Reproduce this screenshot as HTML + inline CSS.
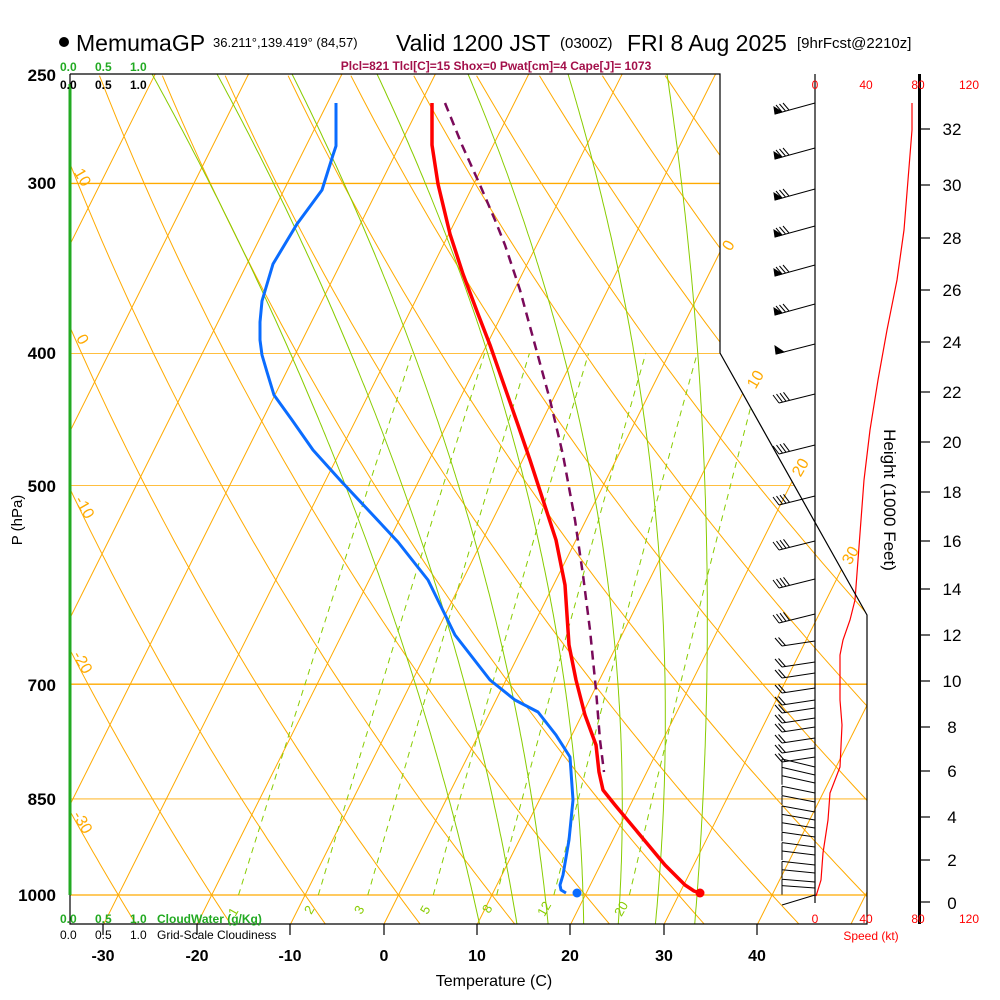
<!DOCTYPE html>
<html><head><meta charset="utf-8"><style>
html,body{margin:0;padding:0;background:#fff;overflow:hidden;}
svg{display:block;font-family:"Liberation Sans",Arial,sans-serif;}
</style></head><body>
<svg id="s" width="1000" height="1000" viewBox="0 0 1000 1000" xmlns="http://www.w3.org/2000/svg">
<defs>
<clipPath id="cp"><polygon points="70,74 720,74 720,353 867,615 867,924 70,924"/></clipPath>
</defs>
<rect width="1000" height="1000" fill="#fff"/>
<g id="grid" clip-path="url(#cp)" fill="none"></g>
<g id="prof" fill="none"></g>
<g id="barbs" stroke="#000" stroke-width="1" fill="none"></g>
<g stroke="#000" stroke-width="1.2" fill="none">
<polyline points="70,74 720,74 720,353 867,615 867,924 70,924 70,74"/>
<line x1="815" y1="74" x2="815" y2="903"/>
</g>
<line x1="70" y1="84" x2="70" y2="895" stroke="#22aa22" stroke-width="3"/>
<line x1="919.5" y1="74" x2="919.5" y2="924" stroke="#000" stroke-width="3"/>
<g stroke="#000" stroke-width="1.2" id="ticks"></g>
<circle cx="64" cy="42" r="5" fill="#000"/>
<text x="76" y="51" font-size="23">MemumaGP</text>
<text x="213" y="47" font-size="13">36.211°,139.419° (84,57)</text>
<text x="396" y="51" font-size="23">Valid 1200 JST</text>
<text x="560" y="48" font-size="15">(0300Z)</text>
<text x="627" y="51" font-size="23">FRI 8 Aug 2025</text>
<text x="797" y="48" font-size="15">[9hrFcst@2210z]</text>
<text x="496" y="70" font-size="12" font-weight="bold" fill="#a3104a" text-anchor="middle">Plcl=821 Tlcl[C]=15 Shox=0 Pwat[cm]=4 Cape[J]= 1073</text>
<g font-size="12" font-weight="bold" fill="#22aa22"><text x="60" y="71">0.0</text><text x="95" y="71">0.5</text><text x="130" y="71">1.0</text></g>
<g font-size="12" font-weight="bold" fill="#000"><text x="60" y="89">0.0</text><text x="95" y="89">0.5</text><text x="130" y="89">1.0</text></g>
<g font-size="12" font-weight="bold" fill="#22aa22"><text x="60" y="923">0.0</text><text x="95" y="923">0.5</text><text x="130" y="923">1.0</text><text x="157" y="923">CloudWater (g/Kg)</text></g>
<g font-size="12" fill="#000"><text x="60" y="939">0.0</text><text x="95" y="939">0.5</text><text x="130" y="939">1.0</text><text x="157" y="939">Grid-Scale Cloudiness</text></g>
<g font-size="17" font-weight="bold" text-anchor="end">
<text x="56" y="81">250</text><text x="56" y="189">300</text><text x="56" y="359">400</text><text x="56" y="492">500</text><text x="56" y="691">700</text><text x="56" y="805">850</text><text x="56" y="901">1000</text>
</g>
<text transform="translate(22,520) rotate(-90)" font-size="15" text-anchor="middle">P (hPa)</text>
<g font-size="16" font-weight="bold" text-anchor="middle">
<text x="103" y="961">-30</text><text x="197" y="961">-20</text><text x="290" y="961">-10</text><text x="384" y="961">0</text><text x="477" y="961">10</text><text x="570" y="961">20</text><text x="664" y="961">30</text><text x="757" y="961">40</text>
</g>
<text x="494" y="986" font-size="16" text-anchor="middle">Temperature (C)</text>
<g font-size="12" fill="#ff0000" text-anchor="middle">
<text x="815" y="89">0</text><text x="866" y="89">40</text><text x="918" y="89">80</text><text x="969" y="89">120</text>
<text x="815" y="923">0</text><text x="866" y="923">40</text><text x="918" y="923">80</text><text x="969" y="923">120</text>
<text x="871" y="940">Speed (kt)</text>
</g>
<g font-size="17" text-anchor="middle">
<text x="952" y="909">0</text><text x="952" y="866">2</text><text x="952" y="823">4</text><text x="952" y="777">6</text><text x="952" y="733">8</text><text x="952" y="687">10</text><text x="952" y="641">12</text><text x="952" y="595">14</text><text x="952" y="547">16</text><text x="952" y="498">18</text><text x="952" y="448">20</text><text x="952" y="398">22</text><text x="952" y="348">24</text><text x="952" y="296">26</text><text x="952" y="244">28</text><text x="952" y="191">30</text><text x="952" y="135">32</text>
</g>
<text transform="translate(884,500) rotate(90)" font-size="17" text-anchor="middle">Height (1000 Feet)</text>
<g font-size="16" fill="#ffaa00" text-anchor="middle">
<text transform="translate(78,180) rotate(60)">10</text>
<text transform="translate(78,342) rotate(60)">0</text>
<text transform="translate(80,510) rotate(60)">-10</text>
<text transform="translate(78,665) rotate(60)">-20</text>
<text transform="translate(78,825) rotate(60)">-30</text>
<text transform="translate(733,248) rotate(-60)">0</text>
<text transform="translate(760,382) rotate(-60)">10</text>
<text transform="translate(805,470) rotate(-60)">20</text>
<text transform="translate(855,558) rotate(-60)">30</text>
</g>
<g font-size="13" fill="#88cc00" text-anchor="middle">
<text transform="translate(237,914) rotate(-60)">1</text>
<text transform="translate(313,912) rotate(-60)">2</text>
<text transform="translate(363,912) rotate(-60)">3</text>
<text transform="translate(429,912) rotate(-60)">5</text>
<text transform="translate(491,911) rotate(-60)">8</text>
<text transform="translate(548,911) rotate(-60)">12</text>
<text transform="translate(625,911) rotate(-60)">20</text>
</g>
</svg>
<script>
(function(){
var NS="http://www.w3.org/2000/svg";
function el(par,tag,attrs){var e=document.createElementNS(NS,tag);for(var k in attrs)e.setAttribute(k,attrs[k]);par.appendChild(e);return e;}
function Y(p){return 895-591*Math.log(1000/p);}
function X(T,p){return 384+9.34*T+0.5*(924-Y(p));}
var g=document.getElementById('grid');
var OR="#ffaa00",GR="#88cc00";
[300,400,500,700,850,1000].forEach(function(p){var y=Y(p);el(g,'line',{x1:70,y1:y,x2:870,y2:y,stroke:OR,'stroke-width':(p==300||p==700||p==1000)?1.3:0.8});});
for(var T=-130;T<=60;T+=10){el(g,'line',{x1:X(T,1052),y1:Y(1052),x2:X(T,248),y2:Y(248),stroke:OR,'stroke-width':1});}
for(var th=-50;th<=220;th+=10){var d="";for(var p=1060;p>=245;p-=10){var T=(th+273.15)*Math.pow(p/1000,0.2857)-273.15;d+=(d?"L":"M")+X(T,p).toFixed(1)+","+Y(p).toFixed(1);}el(g,'path',{d:d,stroke:OR,'stroke-width':1});}
// moist adiabats (fitted to reference): [top x at y=74, x at y=330, bottom x at y=895]
var MA=[[152,280,473],[217,341,512],[292,405,545],[377,480,583],[468,557,620],[568,630,658],[667,696,697]];
var y0=74,y1=330,y2=895;
MA.forEach(function(m){
 var d="";
 for(var y=70;y<=928;y+=4){
  var L0=(y-y1)*(y-y2)/((y0-y1)*(y0-y2)),L1=(y-y0)*(y-y2)/((y1-y0)*(y1-y2)),L2=(y-y0)*(y-y1)/((y2-y0)*(y2-y1));
  var x=m[0]*L0+m[1]*L1+m[2]*L2;
  d+=(d?"L":"M")+x.toFixed(1)+","+y;
 }
 el(g,'path',{d:d,stroke:GR,'stroke-width':1});
});
[1,2,3,5,8,12,20].forEach(function(w){var d="";for(var p=1000;p>=400;p-=10){var e=w*p/(622+w);var l=Math.log(e/6.112);var Td=243.5*l/(17.67-l);d+=(d?"L":"M")+X(Td,p).toFixed(1)+","+Y(p).toFixed(1);}el(g,'path',{d:d,stroke:GR,'stroke-width':1,'stroke-dasharray':'6,5'});});
var pr=document.getElementById('prof');
el(pr,'polyline',{points:"432,103 432,145 438,184 450,234 463,274 478,314 490,345 504,385 518,425 530,460 543,500 556,540 565,585 569,645 576,680 585,715 596,745 599,772 603,790 615,805 640,835 665,865 685,885 694,891 700,893",stroke:"#ff0000",'stroke-width':3.5,'stroke-linejoin':'round'});
el(pr,'circle',{cx:700,cy:893,r:4.5,fill:"#ff0000"});
el(pr,'polyline',{points:"336,103 336,146 333,155 322,190 311,205 297,224 273,264 262,301 260,322 260,340 262,355 267,372 274,395 292,420 313,450 340,480 370,512 398,542 428,580 455,635 490,680 515,700 538,712 556,735 570,757 573,800 569,840 563,875 560,885 561,890 566,893",stroke:"#0a6cff",'stroke-width':3,'stroke-linejoin':'round'});
el(pr,'circle',{cx:577,cy:893,r:4.5,fill:"#0a6cff"});
el(pr,'polyline',{points:"445,103 462,145 480,185 495,220 505,245 520,290 535,345 550,400 563,455 575,520 583,575 590,630 596,690 600,740 604,772",stroke:"#7a0a5a",'stroke-width':2.5,'stroke-dasharray':'9,6'});
el(pr,'polyline',{points:"912,103 912,130 908,180 904,230 897,280 887,330 878,380 870,430 864,480 858,560 855,600 850,620 843,640 840,655 840,700 842,725 840,767 830,793 828,820 823,853 821,880 817,893 816,896",stroke:"#ff0000",'stroke-width':1.2});
var tk=document.getElementById('ticks');
[103,197,290,384,477,570,664,757].forEach(function(x){el(tk,'line',{x1:x,y1:924,x2:x,y2:935});});
[902,860,817,771,727,681,635,589,541,492,442,392,342,290,238,185,129].forEach(function(y){el(tk,'line',{x1:919,y1:y,x2:930,y2:y});});
var b=document.getElementById('barbs');
function staff(y,dx,dy){el(b,'line',{x1:815,y1:y,x2:815+dx,y2:y+dy});}
[103,148,189,226,265,304].forEach(function(y){var tx=775,ty=y+11;staff(y,-40,11);
 el(b,'polygon',{points:tx+","+ty+" "+(tx-1)+","+(ty-7)+" "+(tx+7)+","+(ty-2),fill:"#000"});
 for(var k=0;k<3;k++){var px=tx+7+k*3.5,py=ty-2-k*1;el(b,'line',{x1:px,y1:py,x2:px-6,y2:py-7});}});
[344].forEach(function(y){var tx=776,ty=y+10;staff(y,-39,10);el(b,'polygon',{points:tx+","+ty+" "+(tx-1)+","+(ty-8)+" "+(tx+8)+","+(ty-2),fill:"#000"});});
[394,445,496,541,579,614].forEach(function(y){var tx=779,ty=y+9;staff(y,-36,9);
 for(var k=0;k<4;k++){var px=tx+k*3.5,py=ty-k*0.9;el(b,'line',{x1:px,y1:py,x2:px-6,y2:py-8});}});
[641,662,673,688,700,708,718,727,738,748,757].forEach(function(y){var tx=782,ty=y+5;staff(y,-33,5);
 for(var k=0;k<2;k++){var px=tx+k*3.5,py=ty-k*0.5;el(b,'line',{x1:px,y1:py,x2:px-7,y2:py-8});}});
[767,775,783,793,802,812,820,828,837,847,855,865,873,882,888].forEach(function(y,i){var tx=782,ty=y-8+i*0.4;staff(y,-33,ty-y);el(b,'line',{x1:tx,y1:ty,x2:tx,y2:ty+9});});
staff(895,-33,10);
})();
</script>
</body></html>
